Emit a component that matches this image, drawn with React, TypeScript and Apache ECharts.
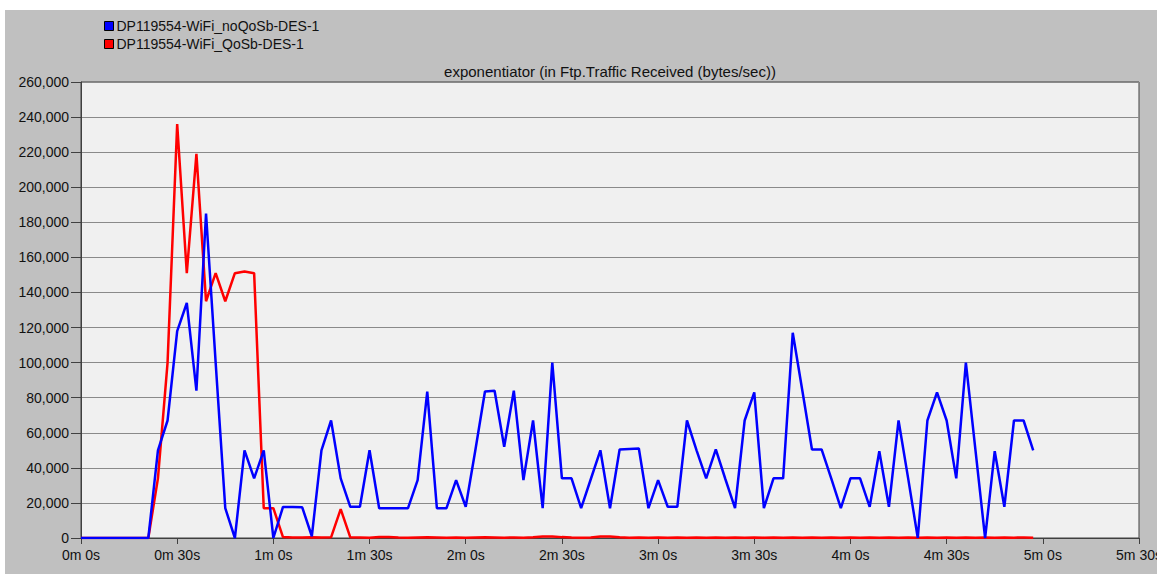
import React, { useEffect, useRef } from "react";
import * as echarts from "echarts";

const SAMPLE_SEC = 3;
const SERIES_BLUE = "DP119554-WiFi_noQoSb-DES-1";
const SERIES_RED = "DP119554-WiFi_QoSb-DES-1";
const TITLE = "exponentiator (in Ftp.Traffic Received (bytes/sec))";

const xTickLabels = ["0m 0s", "0m 30s", "1m 0s", "1m 30s", "2m 0s", "2m 30s", "3m 0s", "3m 30s", "4m 0s", "4m 30s", "5m 0s", "5m 30s"];

// one value every 3 s, from 0 s to 297 s
const blueValues = [
  0, 0, 0, 0, 0, 0, 0, 0, 50000, 67000,
  118000, 134000, 84000, 185000, 100000, 17000, 0, 50000, 34000, 50000,
  0, 17700, 17700, 17500, 1000, 50000, 67000, 34000, 17800, 17800,
  50000, 17000, 17000, 17000, 17000, 33000, 83500, 17000, 17000, 33000,
  17800, 50000, 83500, 84000, 52000, 84000, 33000, 67000, 17000, 100000,
  34000, 34000, 17000, 33500, 50000, 17000, 50500, 50800, 51000, 17000,
  33000, 17800, 17800, 67000, 50000, 34000, 50500, 33500, 17000, 67000,
  83000, 17000, 34000, 34000, 117000, 84000, 50500, 50500, 34000, 17000,
  34000, 34000, 17800, 49500, 17800, 67000, 34000, 0, 67000, 83000,
  67000, 34000, 100000, 50000, 0, 49500, 17800, 67000, 67000, 50000,
];

const redValues = [
  0, 0, 0, 0, 0, 0, 0, 0, 34000, 100000,
  236000, 151000, 219000, 135000, 151000, 135000, 151000, 152000, 151000, 17000,
  17000, 500, 300, 300, 400, 300, 400, 16500, 400, 300,
  200, 500, 600, 300, 200, 300, 400, 300, 200, 300,
  200, 300, 400, 300, 200, 300, 200, 400, 800, 900,
  500, 300, 200, 300, 800, 900, 400, 200, 300, 200,
  300, 200, 300, 200, 300, 200, 300, 200, 300, 200,
  300, 200, 300, 200, 300, 200, 300, 200, 300, 200,
  300, 200, 300, 200, 300, 200, 300, 200, 300, 200,
  300, 200, 300, 200, 300, 200, 300, 200, 300, 200,
];

const FONT = "'Liberation Sans', Arial, sans-serif";

export default function App() {
  const ref = useRef<HTMLDivElement>(null);

  useEffect(() => {
    if (!ref.current) return;
    const chart = echarts.init(ref.current, null, { renderer: "svg" });
    const toPairs = (vals: number[]) => vals.map((v, i) => [i * SAMPLE_SEC, v]);

    chart.setOption({
      animation: false,
      backgroundColor: "#ffffff",
      textStyle: { fontFamily: FONT },
      graphic: [
        {
          type: "rect",
          z: -10,
          shape: { x: 5, y: 10, width: 1157, height: 574 },
          style: { fill: "#c0c0c0" },
          silent: true,
        },
        {
          type: "text",
          x: 610,
          y: 71,
          style: {
            text: TITLE,
            align: "center",
            verticalAlign: "middle",
            font: `15px ${FONT}`,
            fill: "#111",
          },
        },
      ],
      legend: {
        orient: "vertical",
        left: 99,
        top: 13,
        itemWidth: 9,
        itemHeight: 9,
        itemGap: 2,
        icon: "rect",
        data: [SERIES_BLUE, SERIES_RED],
        textStyle: { fontSize: 14, color: "#111", fontFamily: FONT, lineHeight: 16, padding: [0, 0, 0, -2] },
        itemStyle: { borderColor: "#000", borderWidth: 1 },
        selectedMode: false,
      },
      grid: {
        left: 81,
        top: 82,
        right: 18,
        bottom: 36,
        outerBoundsMode: "none",
        containLabel: false,
        show: true,
        backgroundColor: "#f0f0f0",
        borderColor: "#404040",
        borderWidth: 1,
      },
      xAxis: {
        type: "value",
        min: 0,
        max: 330,
        interval: 30,
        axisLine: { show: true, lineStyle: { color: "#404040", width: 1 } },
        axisTick: { show: true, length: 6, lineStyle: { color: "#404040" } },
        splitLine: { show: false },
        axisLabel: {
          color: "#111",
          fontSize: 14,
          fontFamily: FONT,
          margin: 10,
          hideOverlap: false,
          formatter: (v: number) => xTickLabels[Math.round(v / 30)] ?? "",
        },
      },
      yAxis: {
        type: "value",
        min: 0,
        max: 260000,
        interval: 20000,
        axisLine: { show: true, lineStyle: { color: "#404040", width: 1 } },
        axisTick: { show: true, length: 10, lineStyle: { color: "#404040" } },
        splitLine: { show: true, lineStyle: { color: "#8a8a8a", width: 1 } },
        axisLabel: {
          color: "#111",
          fontSize: 14,
          fontFamily: FONT,
          margin: 12,
          formatter: (v: number) => v.toLocaleString("en-US"),
        },
      },
      series: [
        {
          name: SERIES_RED,
          type: "line",
          z: 2,
          showSymbol: false,
          data: toPairs(redValues),
          itemStyle: { color: "#ff0000" },
          lineStyle: { color: "#ff0000", width: 2.5 },
        },
        {
          name: SERIES_BLUE,
          type: "line",
          z: 3,
          showSymbol: false,
          data: toPairs(blueValues),
          itemStyle: { color: "#0000ff" },
          lineStyle: { color: "#0000ff", width: 2.5 },
        },
      ],
    });

    return () => chart.dispose();
  }, []);

  return (
    <div
      ref={ref}
      style={{ position: "fixed", left: 0, top: 0, width: 1157, height: 574 }}
    />
  );
}
